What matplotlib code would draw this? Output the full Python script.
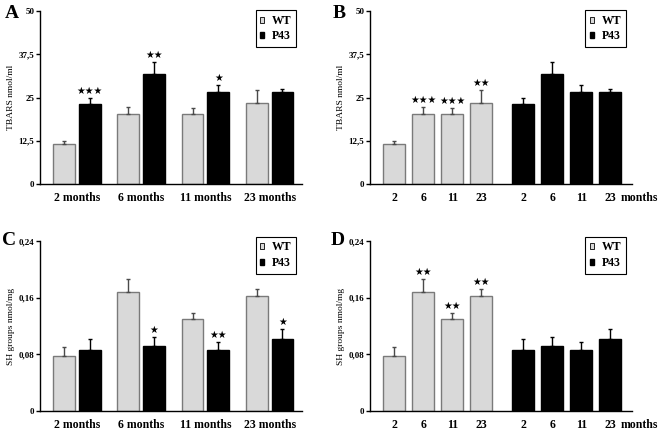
import matplotlib
matplotlib.use("Agg")
import matplotlib.pyplot as plt
import numpy as np
from matplotlib.patches import Patch
from matplotlib.transforms import blended_transform_factory

plt.rcParams["font.family"] = "Liberation Serif"
plt.rcParams["font.weight"] = "bold"

# data
months = ["2", "6", "11", "23"]
group_labels = ["2 months", "6 months", "11 months", "23 months"]

tbars_wt = [11.6, 20.4, 20.4, 23.4]
tbars_wt_err = [0.8, 1.8, 1.5, 3.7]
tbars_p43 = [23.2, 31.9, 26.5, 26.5]
tbars_p43_err = [1.8, 3.4, 2.1, 0.9]

sh_wt = [0.078, 0.168, 0.130, 0.162]
sh_wt_err = [0.012, 0.019, 0.009, 0.010]
sh_p43 = [0.086, 0.092, 0.086, 0.101]
sh_p43_err = [0.016, 0.012, 0.011, 0.015]

# significance marks
stars_A_p43 = ["★★★", "★★", "★", ""]
stars_B_wt = ["", "★★★", "★★★", "★★"]
stars_C_p43 = ["", "★", "★★", "★"]
stars_D_wt = ["", "★★", "★★", "★★"]

tbars_ticks = [0, 12.5, 25, 37.5, 50]
tbars_ticklabels = ["0", "12,5", "25", "37,5", "50"]
sh_ticks = [0, 0.08, 0.16, 0.24]
sh_ticklabels = ["0", "0,08", "0,16", "0,24"]

light = "#d9d9d9"
wt_edge = "#7a7a7a"


def style(ax, ticks, ticklabels, ylabel, leg_y):
    for s in ["top", "right"]:
        ax.spines[s].set_visible(False)
    ax.spines["left"].set_linewidth(1)
    ax.spines["bottom"].set_linewidth(1)
    ax.set_ylim(0, ticks[-1])
    ax.set_yticks(ticks)
    ax.set_yticklabels(ticklabels, fontsize=6.5)
    ax.tick_params(axis="y", length=3, width=1, pad=1)
    ax.tick_params(axis="x", length=0, labelsize=8.5, pad=6)
    ax.set_ylabel(ylabel, fontsize=6.8, labelpad=3)
    handles = [Patch(facecolor=light, edgecolor="black", linewidth=0.6),
               Patch(facecolor="black", edgecolor="black")]
    l = ax.legend(handles, ["WT", "P43"], loc="upper right", bbox_to_anchor=(1.0, leg_y),
                  fontsize=8.5, fancybox=False, edgecolor="black", framealpha=1,
                  handlelength=0.35, handleheight=0.45, handletextpad=0.6,
                  borderpad=0.4, labelspacing=0.3)
    l.get_frame().set_linewidth(0.8)


def bars(ax, x, vals, errs, color, edge, ecol, stars):
    ax.bar(x, vals, width=ax._bw, color=color, edgecolor=edge, linewidth=1)
    ax.errorbar(x, vals, yerr=[np.zeros(len(vals)), errs], fmt="none",
                ecolor=ecol, elinewidth=1, capsize=1.5, capthick=1)
    for xi, v, e, s in zip(x, vals, errs, stars):
        if s:
            ax.annotate(s, xy=(xi, v + e), xytext=(0, 1.5), textcoords="offset points",
                        ha="center", va="bottom", fontsize=7, family="DejaVu Sans")


def grouped(ax, wt, wt_err, p43, p43_err, wt_stars, p43_stars):
    g = np.arange(len(group_labels))
    ax._bw = 0.34
    bars(ax, g - 0.2, wt, wt_err, light, wt_edge, "#4a4a4a", wt_stars)
    bars(ax, g + 0.2, p43, p43_err, "black", "black", "black", p43_stars)
    ax.set_xlim(-0.575, 3.5)
    ax.set_xticks(g)
    ax.set_xticklabels(group_labels)


def split(ax, wt, wt_err, p43, p43_err, wt_stars, p43_stars):
    xw = np.arange(len(months))
    xp = xw + 4.45
    ax._bw = 0.76
    bars(ax, xw, wt, wt_err, light, wt_edge, "#4a4a4a", wt_stars)
    bars(ax, xp, p43, p43_err, "black", "black", "black", p43_stars)
    ax.set_xlim(-0.84, 8.19)
    ax.set_xticks(np.concatenate([xw, xp]))
    ax.set_xticklabels(months + months)
    tr = blended_transform_factory(ax.transData, ax.transAxes)
    ax.text(xp[-1] + 1.0, -0.08, "months", transform=tr, ha="center", va="center",
            fontsize=8.5)


fig = plt.figure(figsize=(6.61, 4.30), dpi=100)
axA = fig.add_axes([0.0605, 0.572, 0.396, 0.402])
axB = fig.add_axes([0.5598, 0.572, 0.3958, 0.402])
axC = fig.add_axes([0.0605, 0.0442, 0.396, 0.3953])
axD = fig.add_axes([0.5598, 0.0442, 0.3958, 0.3953])

empty = ["", "", "", ""]
grouped(axA, tbars_wt, tbars_wt_err, tbars_p43, tbars_p43_err, empty, stars_A_p43)
split(axB, tbars_wt, tbars_wt_err, tbars_p43, tbars_p43_err, stars_B_wt, empty)
grouped(axC, sh_wt, sh_wt_err, sh_p43, sh_p43_err, empty, stars_C_p43)
split(axD, sh_wt, sh_wt_err, sh_p43, sh_p43_err, stars_D_wt, empty)

style(axA, tbars_ticks, tbars_ticklabels, "TBARS nmol/ml", 1.04)
style(axB, tbars_ticks, tbars_ticklabels, "TBARS nmol/ml", 1.04)
style(axC, sh_ticks, sh_ticklabels, "SH groups nmol/mg", 1.06)
style(axD, sh_ticks, sh_ticklabels, "SH groups nmol/mg", 1.06)

for x, y, s in [(5, 5, "A"), (333, 5, "B"), (2, 232, "C"), (331, 232, "D")]:
    fig.text(x / 661, 1 - y / 430, s, fontsize=14, fontweight="bold", va="top", ha="left")

fig.savefig("out.png", dpi=100)
